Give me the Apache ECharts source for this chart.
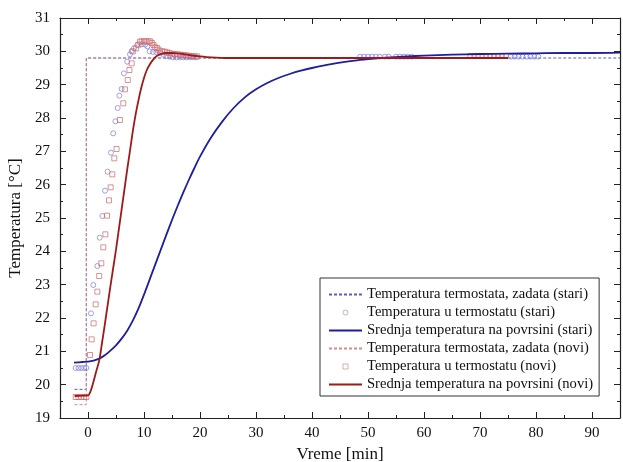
<!DOCTYPE html>
<html>
<head>
<meta charset="utf-8">
<script src="https://cdn.jsdelivr.net/npm/echarts@6/dist/echarts.min.js"></script>
<style>
  html, body { margin: 0; padding: 0; background: #fff; }
  #chart { width: 623px; height: 462px; }
</style>
</head>
<body>
<div id="chart"></div>
<script>
// zadata temperatura termostata (setpoint)
var stariSetX = [-2.4, -0.3, -0.3, 95];
var stariSetY = [19.86, 19.86, 29.8, 29.8];
var noviSetX = [-2.4, -0.3, -0.3, 75];
var noviSetY = [19.4, 19.4, 29.8, 29.8];

// srednja temperatura na povrsini (stari)
var stariSurfX = [-2.5, -1, 0, 1, 2, 3, 4, 5, 6, 7, 8, 9, 10, 11, 12, 13, 14, 15, 16, 17, 18, 19, 20,
  22, 24, 26, 28, 30, 32, 34, 36, 38, 40, 42, 45, 48, 51, 54, 57, 60, 65, 70, 75, 80, 85, 90, 95];
var stariSurfY = [20.66, 20.68, 20.69, 20.72, 20.78, 20.88, 21.02, 21.18, 21.38, 21.62, 21.92, 22.28, 22.7,
  23.15, 23.6, 24.05, 24.5, 24.94, 25.36, 25.76, 26.14, 26.5, 26.84,
  27.42, 27.9, 28.3, 28.62, 28.86, 29.05, 29.2, 29.32, 29.42, 29.5, 29.57, 29.66, 29.73, 29.78,
  29.82, 29.85, 29.87, 29.9, 29.92, 29.93, 29.94, 29.95, 29.95, 29.96];

// srednja temperatura na povrsini (novi)
var noviSurfX = [-2.4, -1, 0, 0.5, 1, 1.5, 2, 2.5, 3, 3.5, 4, 4.5, 5, 5.5, 6, 6.5, 7, 7.5, 8, 8.5, 9, 9.5,
  10, 10.5, 11, 11.5, 12, 12.5, 13, 14, 15, 16, 17, 18, 20, 22, 25, 30, 40, 50, 60, 70, 75];
var noviSurfY = [19.66, 19.67, 19.68, 19.82, 20.1, 20.42, 20.72, 21.25, 21.8, 22.38, 22.95, 23.5, 24.05,
  24.65, 25.25, 25.85, 26.45, 27.02, 27.6, 28.1, 28.52, 28.9, 29.2, 29.44, 29.6, 29.72, 29.82, 29.88,
  29.92, 29.95, 29.95, 29.94, 29.92, 29.89, 29.85, 29.82, 29.8, 29.8, 29.8, 29.8, 29.8, 29.8, 29.8];

// temperatura u termostatu (stari) - kruzici
var stariMeasX = [-2.2, -1.7, -1.2, -0.7, -0.3, 0.54, 0.95, 1.67, 2.09, 2.56, 3.04, 3.5, 4.1, 4.5, 4.9, 5.3,
  5.6, 6.0, 6.4, 7.0, 7.5, 7.8, 8.2, 8.8, 9.6, 10.2, 10.6, 11.0, 11.6, 12.2, 12.9, 13.5, 14.0, 14.6,
  15.2, 15.8, 16.4, 17.0, 17.6, 18.2, 18.8, 19.4,
  48.6, 49.3, 50.0, 50.7, 51.4, 52.1, 53.0, 53.7, 55.0, 55.7, 56.4, 57.1, 57.8,
  75.5, 76.2, 76.9, 77.6, 78.3, 79.0, 79.7, 80.4];
var stariMeasY = [20.5, 20.5, 20.5, 20.5, 20.5, 22.14, 22.99, 23.56, 24.41, 25.06, 25.82, 26.39, 26.96, 27.54,
  27.9, 28.3, 28.67, 28.87, 29.34, 29.69, 29.91, 30.0, 30.09, 30.19, 30.21, 30.2, 30.15, 30.0, 29.98,
  29.98, 29.95, 29.9, 29.86, 29.84, 29.82, 29.82, 29.82, 29.82, 29.82, 29.82, 29.82, 29.82,
  29.84, 29.84, 29.84, 29.84, 29.84, 29.84, 29.84, 29.84, 29.84, 29.84, 29.84, 29.84, 29.84,
  29.84, 29.84, 29.84, 29.84, 29.84, 29.84, 29.84, 29.84];

// temperatura u termostatu (novi) - kvadratici
var noviMeasX = [-2.2, -1.7, -1.2, -0.7, -0.3, 0.36, 0.65, 1.0, 1.37, 1.67, 2.0, 2.38, 2.73, 3.1, 3.4, 3.75,
  4.05, 4.34, 4.7, 5.1, 5.7, 6.3, 6.6, 7.1, 7.4, 7.8, 8.0, 8.6, 9.0, 9.3, 9.6, 10.0, 10.4, 10.8, 11.1,
  11.4, 11.7, 12.0, 12.3, 12.6, 12.9, 13.3, 13.7, 14.1, 14.5, 15.0, 15.5, 16.0, 16.5, 17.0, 17.5, 18.0,
  18.5, 19.0, 19.5,
  68.3, 69.0, 69.7, 70.4, 71.1, 71.8, 72.5, 73.2, 73.9, 74.6];
var noviMeasY = [19.63, 19.63, 19.63, 19.63, 19.63, 20.89, 21.36, 21.84, 22.41, 22.79, 23.26, 23.64, 24.12,
  24.51, 25.07, 25.53, 25.92, 26.31, 26.79, 27.07, 27.94, 28.44, 28.86, 29.14, 29.44, 29.64, 30.0, 30.09,
  30.2, 30.29, 30.3, 30.3, 30.3, 30.3, 30.3, 30.25, 30.19, 30.12, 30.1, 30.05, 30.0, 30.0, 29.99, 29.97,
  29.95, 29.93, 29.92, 29.91, 29.9, 29.89, 29.88, 29.87, 29.86, 29.85, 29.85,
  29.86, 29.86, 29.86, 29.86, 29.86, 29.86, 29.86, 29.86, 29.86, 29.86];

var majorX = [0, 10, 20, 30, 40, 50, 60, 70, 80, 90];
var minorX = [5, 15, 25, 35, 45, 55, 65, 75, 85];

function pairs(xs, ys) {
  return xs.map(function (x, i) { return [x, ys[i]]; });
}

var serif = 'Liberation Serif';
var axisCol = '#222';
var squarePath = 'path://M0 0 L10 0 L10 10 L0 10 Z';

var chart = echarts.init(document.getElementById('chart'));
chart.setOption({
  animation: false,
  grid: [
    { left: 60, right: 3, top: 18, bottom: 44, outerBoundsMode: 'none' },
    { left: 60, right: 3, top: 18, bottom: 44, outerBoundsMode: 'none' }
  ],
  legend: {
    orient: 'vertical',
    left: 320,
    top: 278,
    padding: [9, 6, 4, 8],
    itemGap: 3,
    itemWidth: 33,
    itemHeight: 5,
    borderColor: '#333',
    borderWidth: 1,
    backgroundColor: '#fff',
    textStyle: { fontFamily: serif, fontSize: 14.6, color: '#111' },
    data: [
      { name: 'Temperatura termostata, zadata (stari)', itemStyle: { opacity: 0 } },
      { name: 'Temperatura u termostatu (stari)', icon: 'circle', itemStyle: { borderWidth: 0.7 } },
      { name: 'Srednja temperatura na povrsini (stari)', itemStyle: { opacity: 0 } },
      { name: 'Temperatura termostata, zadata (novi)', itemStyle: { opacity: 0 } },
      { name: 'Temperatura u termostatu (novi)', icon: squarePath, itemStyle: { borderWidth: 0.7 } },
      { name: 'Srednja temperatura na povrsini (novi)', itemStyle: { opacity: 0 } }
    ]
  },
  xAxis: [
    {
      type: 'value', gridIndex: 0, position: 'bottom',
      min: -5, max: 95, interval: 5,
      name: 'Vreme [min]', nameLocation: 'middle', nameGap: 24,
      nameTextStyle: { fontFamily: serif, fontSize: 17, color: '#111' },
      axisLine: { onZero: false, lineStyle: { color: axisCol, width: 1.2 } },
      axisTick: { inside: true, length: 6, customValues: majorX, lineStyle: { color: axisCol } },
      axisLabel: { customValues: majorX, margin: 8, fontFamily: serif, fontSize: 15, color: '#111' },
      splitLine: { show: false }
    },
    {
      type: 'value', gridIndex: 0, position: 'top',
      min: -5, max: 95, interval: 5,
      axisLine: { onZero: false, lineStyle: { color: axisCol, width: 1.2 } },
      axisTick: { inside: true, length: 6, customValues: majorX, lineStyle: { color: axisCol } },
      axisLabel: { show: false },
      splitLine: { show: false }
    },
    {
      type: 'value', gridIndex: 1, position: 'bottom',
      min: -5, max: 95, interval: 5,
      axisLine: { show: false, onZero: false },
      axisTick: { inside: true, length: 3, customValues: minorX, lineStyle: { color: axisCol } },
      axisLabel: { show: false },
      splitLine: { show: false }
    },
    {
      type: 'value', gridIndex: 1, position: 'top',
      min: -5, max: 95, interval: 5,
      axisLine: { show: false, onZero: false },
      axisTick: { inside: true, length: 3, customValues: minorX, lineStyle: { color: axisCol } },
      axisLabel: { show: false },
      splitLine: { show: false }
    }
  ],
  yAxis: [
    {
      type: 'value', gridIndex: 0, position: 'left',
      min: 19, max: 31, interval: 1,
      name: 'Temperatura [°C]', nameLocation: 'middle', nameGap: 34,
      nameTextStyle: { fontFamily: serif, fontSize: 17, color: '#111' },
      axisLine: { onZero: false, lineStyle: { color: axisCol, width: 1.2 } },
      axisTick: { inside: true, length: 6, lineStyle: { color: axisCol } },
      minorTick: { show: true, splitNumber: 2, length: 3, lineStyle: { color: axisCol } },
      axisLabel: { margin: 10, fontFamily: serif, fontSize: 15, color: '#111' },
      splitLine: { show: false }
    },
    {
      type: 'value', gridIndex: 0, position: 'right',
      min: 19, max: 31, interval: 1,
      axisLine: { onZero: false, lineStyle: { color: axisCol, width: 1.2 } },
      axisTick: { inside: true, length: 6, lineStyle: { color: axisCol } },
      minorTick: { show: true, splitNumber: 2, length: 3, lineStyle: { color: axisCol } },
      axisLabel: { show: false },
      splitLine: { show: false }
    },
    {
      type: 'value', gridIndex: 1, min: 19, max: 31, show: false
    }
  ],
  series: [
    {
      name: 'Temperatura termostata, zadata (stari)', type: 'line', symbol: 'none',
      data: pairs(stariSetX, stariSetY),
      lineStyle: { color: '#5a5ad8', width: 1, type: [3, 2] },
      itemStyle: { color: '#5a5ad8' }, z: 2
    },
    {
      name: 'Temperatura termostata, zadata (novi)', type: 'line', symbol: 'none',
      data: pairs(noviSetX, noviSetY),
      lineStyle: { color: '#d88a8a', width: 1, type: [3, 2] },
      itemStyle: { color: '#d88a8a' }, z: 2
    },
    {
      name: 'Temperatura u termostatu (stari)', type: 'scatter', symbol: 'circle', symbolSize: 5,
      data: pairs(stariMeasX, stariMeasY),
      itemStyle: { color: 'rgba(255,255,255,0)', borderColor: '#7c7ce0', borderWidth: 0.9 }, z: 3
    },
    {
      name: 'Temperatura u termostatu (novi)', type: 'scatter', symbol: 'rect', symbolSize: 5,
      data: pairs(noviMeasX, noviMeasY),
      itemStyle: { color: 'rgba(255,255,255,0)', borderColor: '#cc6a6a', borderWidth: 0.9 }, z: 3
    },
    {
      name: 'Srednja temperatura na povrsini (stari)', type: 'line', symbol: 'none', smooth: 0.3,
      data: pairs(stariSurfX, stariSurfY),
      lineStyle: { color: '#1e1e9e', width: 1.8 },
      itemStyle: { color: '#1e1e9e' }, z: 4
    },
    {
      name: 'Srednja temperatura na povrsini (novi)', type: 'line', symbol: 'none', smooth: 0.3,
      data: pairs(noviSurfX, noviSurfY),
      lineStyle: { color: '#9c1a1a', width: 1.8 },
      itemStyle: { color: '#9c1a1a' }, z: 4
    }
  ]
});
</script>
</body>
</html>
